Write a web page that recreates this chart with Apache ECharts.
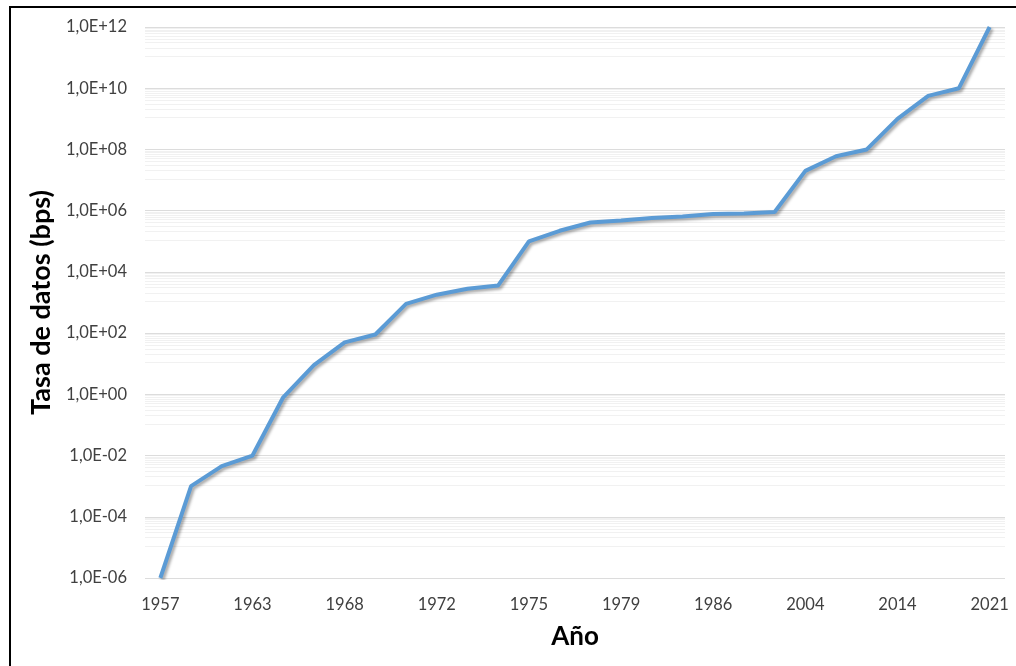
<!DOCTYPE html>
<html>
<head>
<meta charset="utf-8">
<title>Tasa de datos</title>
<script src="https://cdn.jsdelivr.net/npm/echarts@6/dist/echarts.min.js"></script>
<style>
  body { margin: 0; background: #fff; }
  #frame { position: absolute; left: 9px; top: 6px; width: 1100px; height: 700px;
           border-left: 2px solid #000; border-top: 2px solid #000; }
  #chart { position: absolute; left: 0; top: 0; width: 1016px; height: 666px; }
</style>
</head>
<body>
<div id="frame"></div>
<div id="chart"></div>
<script>
  // años (solo se ve una etiqueta de cada tres)
  let years = ['1957', '1959', '1961', '1963', '1965', '1966', '1968', '1969', '1970', '1972',
    '1973', '1974', '1975', '1976', '1977', '1979', '1981', '1983', '1986', '1990',
    '1997', '2004', '2007', '2010', '2014', '2016', '2019', '2021'];
  // tasa de datos en bps
  let rates = [1e-6, 1e-3, 4.5e-3, 1e-2, 0.8, 9, 50, 90, 900, 1800,
    2800, 3600, 1e5, 2.2e5, 4.1e5, 4.8e5, 5.8e5, 6.5e5, 7.8e5, 8.1e5,
    9e5, 2e7, 6e7, 1e8, 1e9, 5.6e9, 1e10, 1e12];
  let yMin = 1e-6;
  let yMax = 1e12;

  // formato tipo Excel: 1,0E+06
  function sciLabel(v) {
    let e = Math.round(Math.log10(v));
    let s = e < 0 ? '-' : '+';
    let a = Math.abs(e);
    return '1,0E' + s + (a < 10 ? '0' + a : '' + a);
  }

  let chart = echarts.init(document.getElementById('chart'));
  chart.setOption({
    animation: false,
    grid: { left: 145, right: 11, top: 27, bottom: 88, containLabel: false, outerBoundsMode: 'none' },
    xAxis: {
      type: 'category',
      data: years,
      boundaryGap: true,
      name: 'Año',
      nameLocation: 'middle',
      nameGap: 46,
      nameTextStyle: { fontFamily: 'Lato', fontWeight: 'bold', fontSize: 26, color: '#000' },
      axisLine: { show: false },
      axisTick: { show: false },
      axisLabel: { interval: 2, margin: 18, fontFamily: 'Lato', fontSize: 16.5, color: '#404040' },
      splitLine: { show: false }
    },
    yAxis: {
      type: 'log',
      logBase: 100,
      min: yMin,
      max: yMax,
      name: 'Tasa de datos (bps)',
      nameLocation: 'middle',
      nameGap: 88,
      nameTextStyle: { fontFamily: 'Lato', fontWeight: 'bold', fontSize: 27, color: '#000' },
      axisLine: { show: false },
      axisTick: { show: false },
      axisLabel: { margin: 18, fontFamily: 'Lato', fontSize: 16.5, color: '#404040', formatter: sciLabel },
      splitLine: { show: true, lineStyle: { color: '#dcdcdc', width: 1 } },
      minorTick: { show: false, splitNumber: 10 },
      minorSplitLine: { show: true, lineStyle: { color: '#f1f1f1', width: 1 } }
    },
    series: [
      {
        name: 'Tasa',
        type: 'line',
        data: rates,
        symbol: 'none',
        smooth: false,
        lineStyle: {
          color: '#5B9BD5',
          width: 4,
          shadowColor: 'rgba(0,0,0,0.35)',
          shadowBlur: 3,
          shadowOffsetX: 2,
          shadowOffsetY: 2
        }
      }
    ]
  });
</script>
</body>
</html>
